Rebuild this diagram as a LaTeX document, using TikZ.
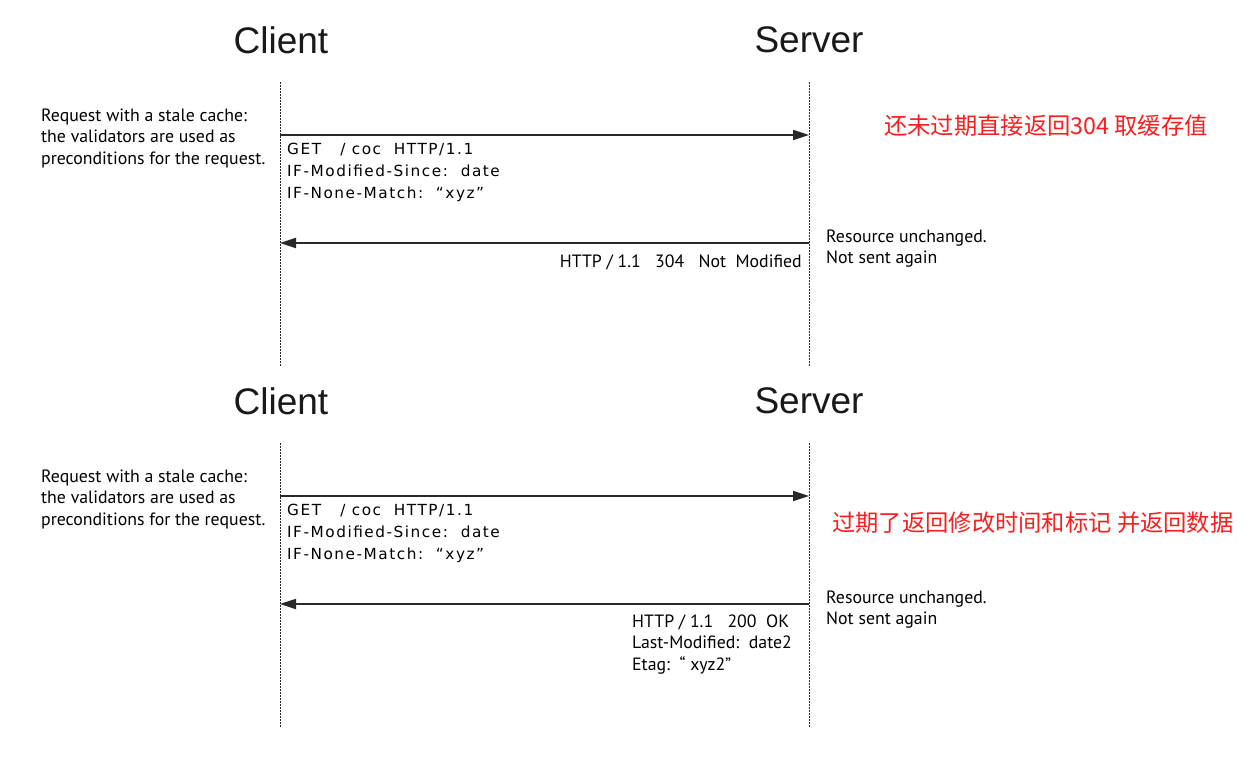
\documentclass[tikz,border=0pt]{standalone}
\usepackage{fontspec}
\setmainfont{Liberation Sans}
\newfontfamily\myr{PT Sans}
\newfontfamily\msgf[LetterSpace=10]{DejaVu Sans}
\newfontfamily\cjk{Noto Sans CJK SC}
\usetikzlibrary{arrows.meta}
\definecolor{redtxt}{RGB}{250,30,30}
\definecolor{ln}{RGB}{40,40,40}
\begin{document}
\begin{tikzpicture}[x=1pt,y=-1pt,
  title/.style={font=\fontsize{37}{40}\selectfont, inner sep=0, text=black!90},
  note/.style={font=\myr\fontsize{17.8}{21.5}\selectfont, align=left, inner sep=0, anchor=base west},
  rnote/.style={font=\myr\fontsize{17.8}{21.5}\selectfont, align=right, inner sep=0, anchor=base east},
  msgtext/.style={font=\msgf\fontsize{15.3}{22}\selectfont, align=left, inner sep=0, anchor=base west},
  life/.style={draw=ln, line width=1pt, dash pattern=on 1.5pt off 1.5pt},
  msg/.style={draw=ln, line width=1.8pt, -{Triangle[length=16pt,width=10pt]}},
  cn/.style={font=\cjk\fontsize{23.3}{26}\selectfont, text=redtxt, inner sep=0, anchor=west}
]
\fill[white] (0,0) rectangle (1255,756);

% ---------- top diagram ----------
\node[title] (client1) at (281,40) {Client};
\node[title] (server1) at (809,40) {Server};
\coordinate (c1t) at (280,82);
\coordinate (c1b) at (280,366);
\coordinate (s1t) at (809,82);
\coordinate (s1b) at (809,366);
\draw[life] (c1t) -- (c1b);
\draw[life] (s1t) -- (s1b);

\coordinate (c1req) at (280,135);
\coordinate (s1req) at (809,135);
\coordinate (s1res) at (809,243);
\coordinate (c1res) at (280,243);
\draw[msg] (c1req) -- (s1req);
\draw[msg] (s1res) -- (c1res);

% multi-line nodes: anchored at the baseline of their last line
\node[note] (why1) at (41,164) {Request with a stale cache:\\the validators are used as\\preconditions for the request.};
\node[msgtext] (req1) at (287,198) {GET\ \ \ / coc\ \ HTTP/1.1\\IF-Modified-Since:\ \ date\\IF-None-Match:\ \ “xyz”};
\node[rnote] (res1) at (802,267) {HTTP / 1.1\ \ \ 304\ \ \ Not\ \ Modified};
\node[note] (srv1) at (826,263.5) {Resource unchanged.\\Not sent again};
\node[cn] (cn1) at (884,126) {还未过期直接返回304 取缓存值};

% ---------- bottom diagram ----------
\node[title] (client2) at (281,401) {Client};
\node[title] (server2) at (809,401) {Server};
\coordinate (c2t) at (280,443);
\coordinate (c2b) at (280,727);
\coordinate (s2t) at (809,443);
\coordinate (s2b) at (809,727);
\draw[life] (c2t) -- (c2b);
\draw[life] (s2t) -- (s2b);

\coordinate (c2req) at (280,496);
\coordinate (s2req) at (809,496);
\coordinate (s2res) at (809,604);
\coordinate (c2res) at (280,604);
\draw[msg] (c2req) -- (s2req);
\draw[msg] (s2res) -- (c2res);

\node[note] (why2) at (41,525) {Request with a stale cache:\\the validators are used as\\preconditions for the request.};
\node[msgtext] (req2) at (287,559) {GET\ \ \ / coc\ \ HTTP/1.1\\IF-Modified-Since:\ \ date\\IF-None-Match:\ \ “xyz”};
\node[note] (res2) at (632,670) {HTTP / 1.1\ \ \ 200\ \ OK\\Last-Modified:\ \ date2\\Etag:\ \ “\ xyz2”};
\node[note] (srv2) at (826,624.5) {Resource unchanged.\\Not sent again};
\node[cn] (cn2) at (832,523) {过期了返回修改时间和标记 并返回数据};
\end{tikzpicture}
\end{document}
